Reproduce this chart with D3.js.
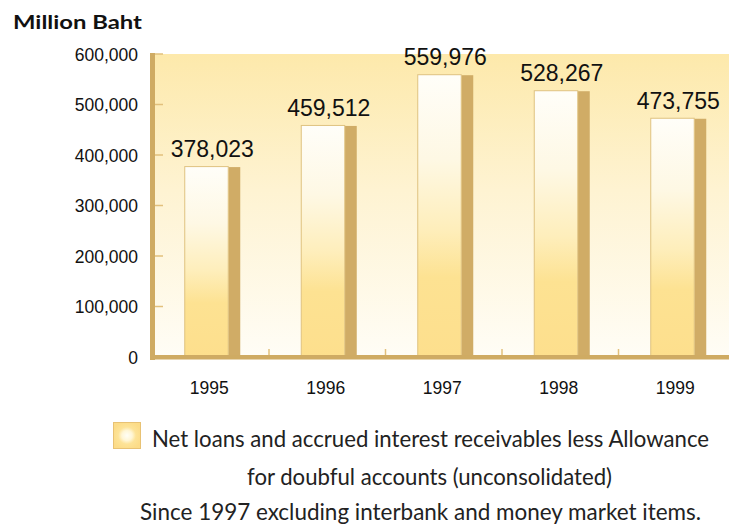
<!DOCTYPE html>
<html>
<head>
<meta charset="utf-8">
<script src="https://cdn.jsdelivr.net/npm/d3@7"></script>
<style>
  html, body { margin: 0; padding: 0; background: #ffffff; }
  svg { display: block; }
</style>
</head>
<body>
<svg id="chart" width="729" height="529"></svg>
<script>
// ---- data ----
const years = ["1995", "1996", "1997", "1998", "1999"];
const netLoans = [378023, 459512, 559976, 528267, 473755];
const yTicks = [0, 100000, 200000, 300000, 400000, 500000, 600000];
const unitLabel = "Million Baht";
const legendLines = [
  "Net loans and accrued interest receivables less Allowance",
  "for doubful accounts (unconsolidated)",
  "Since 1997 excluding interbank and money market items."
];

const svg = d3.select("#chart");
const defs = svg.append("defs");

// gradients
const bg = defs.append("linearGradient").attr("id", "bgGrad")
  .attr("x1", 0).attr("y1", 0).attr("x2", 0).attr("y2", 1);
bg.append("stop").attr("offset", "0%").attr("stop-color", "#fde9ab");
bg.append("stop").attr("offset", "45%").attr("stop-color", "#fef3d2");
bg.append("stop").attr("offset", "100%").attr("stop-color", "#fffdf6");

const barG = defs.append("linearGradient").attr("id", "barGrad")
  .attr("x1", 0).attr("y1", 0).attr("x2", 0).attr("y2", 1);
barG.append("stop").attr("offset", "0%").attr("stop-color", "#fffef9");
barG.append("stop").attr("offset", "30%").attr("stop-color", "#fef8e4");
barG.append("stop").attr("offset", "55%").attr("stop-color", "#feeebb");
barG.append("stop").attr("offset", "72%").attr("stop-color", "#fde292");
barG.append("stop").attr("offset", "100%").attr("stop-color", "#fddf8d");

const legG = defs.append("radialGradient").attr("id", "legGrad")
  .attr("cx", "50%").attr("cy", "50%").attr("r", "55%");
legG.append("stop").attr("offset", "0%").attr("stop-color", "#fffef6");
legG.append("stop").attr("offset", "35%").attr("stop-color", "#fff6d6");
legG.append("stop").attr("offset", "60%").attr("stop-color", "#fde397");
legG.append("stop").attr("offset", "100%").attr("stop-color", "#fcdc88");

// scales
const y = d3.scaleLinear().domain([0, 600000]).range([357, 54]);
const x = d3.scaleBand().domain(years).range([151, 733.5]).padding(0);

const axisCol = "#cfab63";
const tickCol = "#e2c07c";

// plot background
svg.append("rect")
  .attr("x", 155).attr("y", y(600000))
  .attr("width", 729 - 155).attr("height", y(0) - y(600000))
  .attr("fill", "url(#bgGrad)");

// y axis
const yAxis = d3.axisLeft(y).tickValues(yTicks)
  .tickFormat(d3.format(",")).tickSize(0).tickPadding(0);
const yg = svg.append("g").attr("transform", "translate(138,0)").call(yAxis);
yg.select(".domain").remove();
yg.selectAll("text")
  .attr("font-family", "'Liberation Sans', Arial, sans-serif")
  .attr("font-size", 17.5).attr("fill", "#111").attr("dy", "0.35em");

// y tick marks inside plot
svg.append("g").selectAll("line").data(yTicks.filter(d => d > 0)).join("line")
  .attr("x1", 155).attr("x2", 163)
  .attr("y1", d => y(d)).attr("y2", d => y(d))
  .attr("stroke", tickCol).attr("stroke-width", 1.5);

// x tick marks at band boundaries
svg.append("g").selectAll("line").data(years.slice(1)).join("line")
  .attr("x1", d => x(d) + 1.5).attr("x2", d => x(d) + 1.5)
  .attr("y1", 355).attr("y2", 349)
  .attr("stroke", tickCol).attr("stroke-width", 1.5);

// bars
const bw = x.bandwidth();
const frontW = 44, shadowW = 12;
const barX = d => x(d) + bw / 2 - (frontW + shadowW) / 2 + 3;
const bars = svg.append("g").selectAll("g").data(years.map((yr, i) => ({yr, v: netLoans[i]}))).join("g");

bars.append("rect")
  .attr("x", d => barX(d.yr) + frontW)
  .attr("y", d => y(d.v) + 1)
  .attr("width", shadowW)
  .attr("height", d => 356 - y(d.v) - 1)
  .attr("fill", "#d0ac66");

bars.append("rect")
  .attr("x", d => barX(d.yr) + 0.5)
  .attr("y", d => y(d.v) + 0.5)
  .attr("width", frontW - 0.5)
  .attr("height", d => 356 - y(d.v) - 0.5)
  .attr("fill", "url(#barGrad)")
  .attr("stroke", "#dfc280").attr("stroke-width", 1);

bars.append("text")
  .attr("x", d => barX(d.yr) + (frontW + shadowW) / 2)
  .attr("y", d => y(d.v) - 9)
  .attr("text-anchor", "middle")
  .attr("font-family", "'Liberation Sans', Arial, sans-serif")
  .attr("font-size", 23).attr("fill", "#111")
  .text(d => d3.format(",")(d.v));

// axis lines (thick)
svg.append("rect").attr("x", 150).attr("y", 53).attr("width", 5).attr("height", 307).attr("fill", axisCol);
svg.append("rect").attr("x", 150).attr("y", 355).attr("width", 729 - 150).attr("height", 4.5).attr("fill", axisCol);

// x axis labels
const xAxis = d3.axisBottom(x).tickSize(0).tickPadding(0);
const xg = svg.append("g").attr("transform", "translate(0,382)").call(xAxis);
xg.select(".domain").remove();
xg.selectAll("text")
  .attr("font-family", "'Liberation Sans', Arial, sans-serif")
  .attr("font-size", 17.5).attr("fill", "#111").attr("dy", "0.71em");

// unit label
svg.append("text").attr("x", 13).attr("y", 29)
  .attr("font-family", "Lato, 'Noto Sans', sans-serif").attr("font-weight", "bold")
  .attr("font-size", 19.5).attr("fill", "#111")
  .attr("textLength", 129).attr("lengthAdjust", "spacingAndGlyphs")
  .text(unitLabel);

// legend
svg.append("rect").attr("x", 113.5).attr("y", 422.5).attr("width", 27).attr("height", 26)
  .attr("fill", "url(#legGrad)").attr("stroke", "#e8c274").attr("stroke-width", 1);

const legFont = "Lato, 'Noto Sans', sans-serif";
const legSpec = [
  {x: 152, y: 447, w: 557},
  {x: 247, y: 485, w: 365},
  {x: 140, y: 520, w: 561}
];
svg.append("g").selectAll("text").data(legendLines).join("text")
  .attr("x", (d, i) => legSpec[i].x)
  .attr("y", (d, i) => legSpec[i].y)
  .attr("textLength", (d, i) => legSpec[i].w)
  .attr("lengthAdjust", "spacingAndGlyphs")
  .attr("font-family", legFont).attr("font-size", 23).attr("fill", "#222")
  .text(d => d);
</script>
</body>
</html>
